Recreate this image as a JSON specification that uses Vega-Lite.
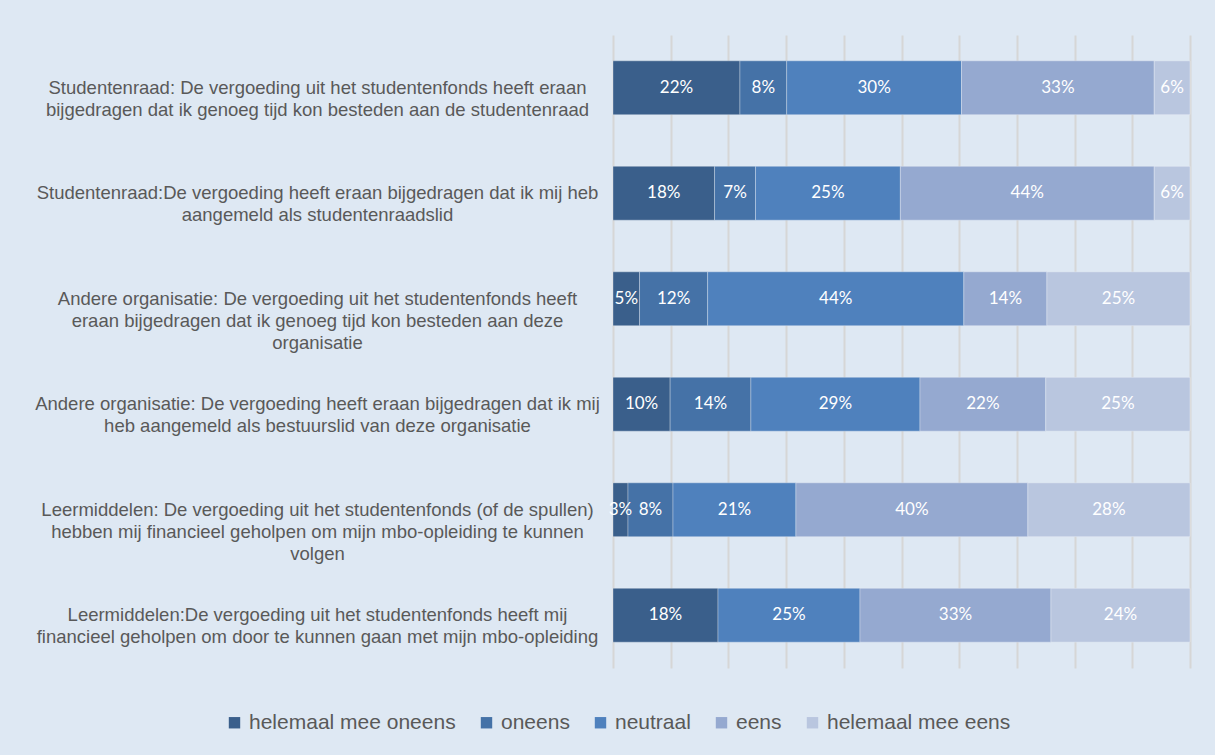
{
  "$schema": "https://vega.github.io/schema/vega-lite/v6.json",
  "autosize": "none",
  "width": 577,
  "height": 633,
  "padding": {"left": 613, "top": 35, "right": 25, "bottom": 87},
  "background": "#dee8f3",
  "config": {"view": {"stroke": null}},
  "data": {
    "values": [
      {"q": "Studentenraad: De vergoeding uit het studentenfonds heeft eraan|bijgedragen dat ik genoeg tijd kon besteden aan de studentenraad", "c": "helemaal mee oneens", "k": 1, "v": 0.22},
      {"q": "Studentenraad: De vergoeding uit het studentenfonds heeft eraan|bijgedragen dat ik genoeg tijd kon besteden aan de studentenraad", "c": "oneens", "k": 2, "v": 0.081},
      {"q": "Studentenraad: De vergoeding uit het studentenfonds heeft eraan|bijgedragen dat ik genoeg tijd kon besteden aan de studentenraad", "c": "neutraal", "k": 3, "v": 0.303},
      {"q": "Studentenraad: De vergoeding uit het studentenfonds heeft eraan|bijgedragen dat ik genoeg tijd kon besteden aan de studentenraad", "c": "eens", "k": 4, "v": 0.334},
      {"q": "Studentenraad: De vergoeding uit het studentenfonds heeft eraan|bijgedragen dat ik genoeg tijd kon besteden aan de studentenraad", "c": "helemaal mee eens", "k": 5, "v": 0.062},
      {"q": "Studentenraad:De vergoeding heeft eraan bijgedragen dat ik mij heb|aangemeld als studentenraadslid", "c": "helemaal mee oneens", "k": 1, "v": 0.176},
      {"q": "Studentenraad:De vergoeding heeft eraan bijgedragen dat ik mij heb|aangemeld als studentenraadslid", "c": "oneens", "k": 2, "v": 0.071},
      {"q": "Studentenraad:De vergoeding heeft eraan bijgedragen dat ik mij heb|aangemeld als studentenraadslid", "c": "neutraal", "k": 3, "v": 0.251},
      {"q": "Studentenraad:De vergoeding heeft eraan bijgedragen dat ik mij heb|aangemeld als studentenraadslid", "c": "eens", "k": 4, "v": 0.44},
      {"q": "Studentenraad:De vergoeding heeft eraan bijgedragen dat ik mij heb|aangemeld als studentenraadslid", "c": "helemaal mee eens", "k": 5, "v": 0.062},
      {"q": "Andere organisatie: De vergoeding uit het studentenfonds heeft|eraan bijgedragen dat ik genoeg tijd kon besteden aan deze|organisatie", "c": "helemaal mee oneens", "k": 1, "v": 0.046},
      {"q": "Andere organisatie: De vergoeding uit het studentenfonds heeft|eraan bijgedragen dat ik genoeg tijd kon besteden aan deze|organisatie", "c": "oneens", "k": 2, "v": 0.118},
      {"q": "Andere organisatie: De vergoeding uit het studentenfonds heeft|eraan bijgedragen dat ik genoeg tijd kon besteden aan deze|organisatie", "c": "neutraal", "k": 3, "v": 0.444},
      {"q": "Andere organisatie: De vergoeding uit het studentenfonds heeft|eraan bijgedragen dat ik genoeg tijd kon besteden aan deze|organisatie", "c": "eens", "k": 4, "v": 0.144},
      {"q": "Andere organisatie: De vergoeding uit het studentenfonds heeft|eraan bijgedragen dat ik genoeg tijd kon besteden aan deze|organisatie", "c": "helemaal mee eens", "k": 5, "v": 0.248},
      {"q": "Andere organisatie: De vergoeding heeft eraan bijgedragen dat ik mij|heb aangemeld als bestuurslid van deze organisatie", "c": "helemaal mee oneens", "k": 1, "v": 0.099},
      {"q": "Andere organisatie: De vergoeding heeft eraan bijgedragen dat ik mij|heb aangemeld als bestuurslid van deze organisatie", "c": "oneens", "k": 2, "v": 0.14},
      {"q": "Andere organisatie: De vergoeding heeft eraan bijgedragen dat ik mij|heb aangemeld als bestuurslid van deze organisatie", "c": "neutraal", "k": 3, "v": 0.293},
      {"q": "Andere organisatie: De vergoeding heeft eraan bijgedragen dat ik mij|heb aangemeld als bestuurslid van deze organisatie", "c": "eens", "k": 4, "v": 0.218},
      {"q": "Andere organisatie: De vergoeding heeft eraan bijgedragen dat ik mij|heb aangemeld als bestuurslid van deze organisatie", "c": "helemaal mee eens", "k": 5, "v": 0.25},
      {"q": "Leermiddelen: De vergoeding uit het studentenfonds (of de spullen)|hebben mij financieel geholpen om mijn mbo-opleiding te kunnen|volgen", "c": "helemaal mee oneens", "k": 1, "v": 0.026},
      {"q": "Leermiddelen: De vergoeding uit het studentenfonds (of de spullen)|hebben mij financieel geholpen om mijn mbo-opleiding te kunnen|volgen", "c": "oneens", "k": 2, "v": 0.078},
      {"q": "Leermiddelen: De vergoeding uit het studentenfonds (of de spullen)|hebben mij financieel geholpen om mijn mbo-opleiding te kunnen|volgen", "c": "neutraal", "k": 3, "v": 0.213},
      {"q": "Leermiddelen: De vergoeding uit het studentenfonds (of de spullen)|hebben mij financieel geholpen om mijn mbo-opleiding te kunnen|volgen", "c": "eens", "k": 4, "v": 0.402},
      {"q": "Leermiddelen: De vergoeding uit het studentenfonds (of de spullen)|hebben mij financieel geholpen om mijn mbo-opleiding te kunnen|volgen", "c": "helemaal mee eens", "k": 5, "v": 0.281},
      {"q": "Leermiddelen:De vergoeding uit het studentenfonds heeft mij|financieel geholpen om door te kunnen gaan met mijn mbo-opleiding", "c": "helemaal mee oneens", "k": 1, "v": 0.182},
      {"q": "Leermiddelen:De vergoeding uit het studentenfonds heeft mij|financieel geholpen om door te kunnen gaan met mijn mbo-opleiding", "c": "neutraal", "k": 3, "v": 0.246},
      {"q": "Leermiddelen:De vergoeding uit het studentenfonds heeft mij|financieel geholpen om door te kunnen gaan met mijn mbo-opleiding", "c": "eens", "k": 4, "v": 0.331},
      {"q": "Leermiddelen:De vergoeding uit het studentenfonds heeft mij|financieel geholpen om door te kunnen gaan met mijn mbo-opleiding", "c": "helemaal mee eens", "k": 5, "v": 0.241}
    ]
  },
  "encoding": {
    "y": {
      "field": "q",
      "type": "nominal",
      "sort": null,
      "scale": {"paddingInner": 0.49, "paddingOuter": 0.245},
      "axis": {
        "title": null,
        "ticks": false,
        "domain": false,
        "labelExpr": "split(datum.label, '|')",
        "labelAlign": "center",
        "labelBaseline": "middle",
        "labelPadding": 296,
        "labelLimit": 0,
        "labelFont": "Liberation Sans",
        "labelFontSize": 18.5,
        "labelLineHeight": 22,
        "labelColor": "#595959"
      }
    }
  },
  "layer": [
    {
      "mark": {"type": "bar", "stroke": "#ffffff", "strokeWidth": 0.6, "strokeOpacity": 0.5},
      "encoding": {
        "x": {
          "field": "v",
          "type": "quantitative",
          "stack": "zero",
          "scale": {"domain": [0, 1], "nice": false},
          "axis": {
            "title": null,
            "labels": false,
            "ticks": false,
            "domain": false,
            "values": [0, 0.1, 0.2, 0.3, 0.4, 0.5, 0.6, 0.7, 0.8, 0.9, 1],
            "grid": true,
            "gridColor": "#d6d6d6",
            "gridWidth": 2
          }
        },
        "order": {"field": "k", "type": "quantitative"},
        "color": {
          "field": "c",
          "type": "nominal",
          "scale": {
            "domain": ["helemaal mee oneens", "oneens", "neutraal", "eens", "helemaal mee eens"],
            "range": ["#3a5f8b", "#4572a7", "#4f81bd", "#95a9d0", "#b9c6df"]
          },
          "legend": {
            "title": null,
            "orient": "none",
            "direction": "horizontal",
            "legendX": -389,
            "legendY": 677,
            "symbolType": "square",
            "symbolSize": 130,
            "symbolStrokeWidth": 0,
            "labelFont": "Liberation Sans",
            "labelFontSize": 21,
            "labelLimit": 500,
            "labelColor": "#595959",
            "labelOffset": 4,
            "columnPadding": 20
          }
        }
      }
    },
    {
      "mark": {"type": "text", "color": "#ffffff", "font": "Lato", "fontSize": 17, "align": "center", "baseline": "middle"},
      "encoding": {
        "x": {"field": "v", "type": "quantitative", "stack": "zero", "bandPosition": 0.5},
        "order": {"field": "k", "type": "quantitative"},
        "text": {"field": "v", "type": "quantitative", "format": ".0%"}
      }
    }
  ]
}
